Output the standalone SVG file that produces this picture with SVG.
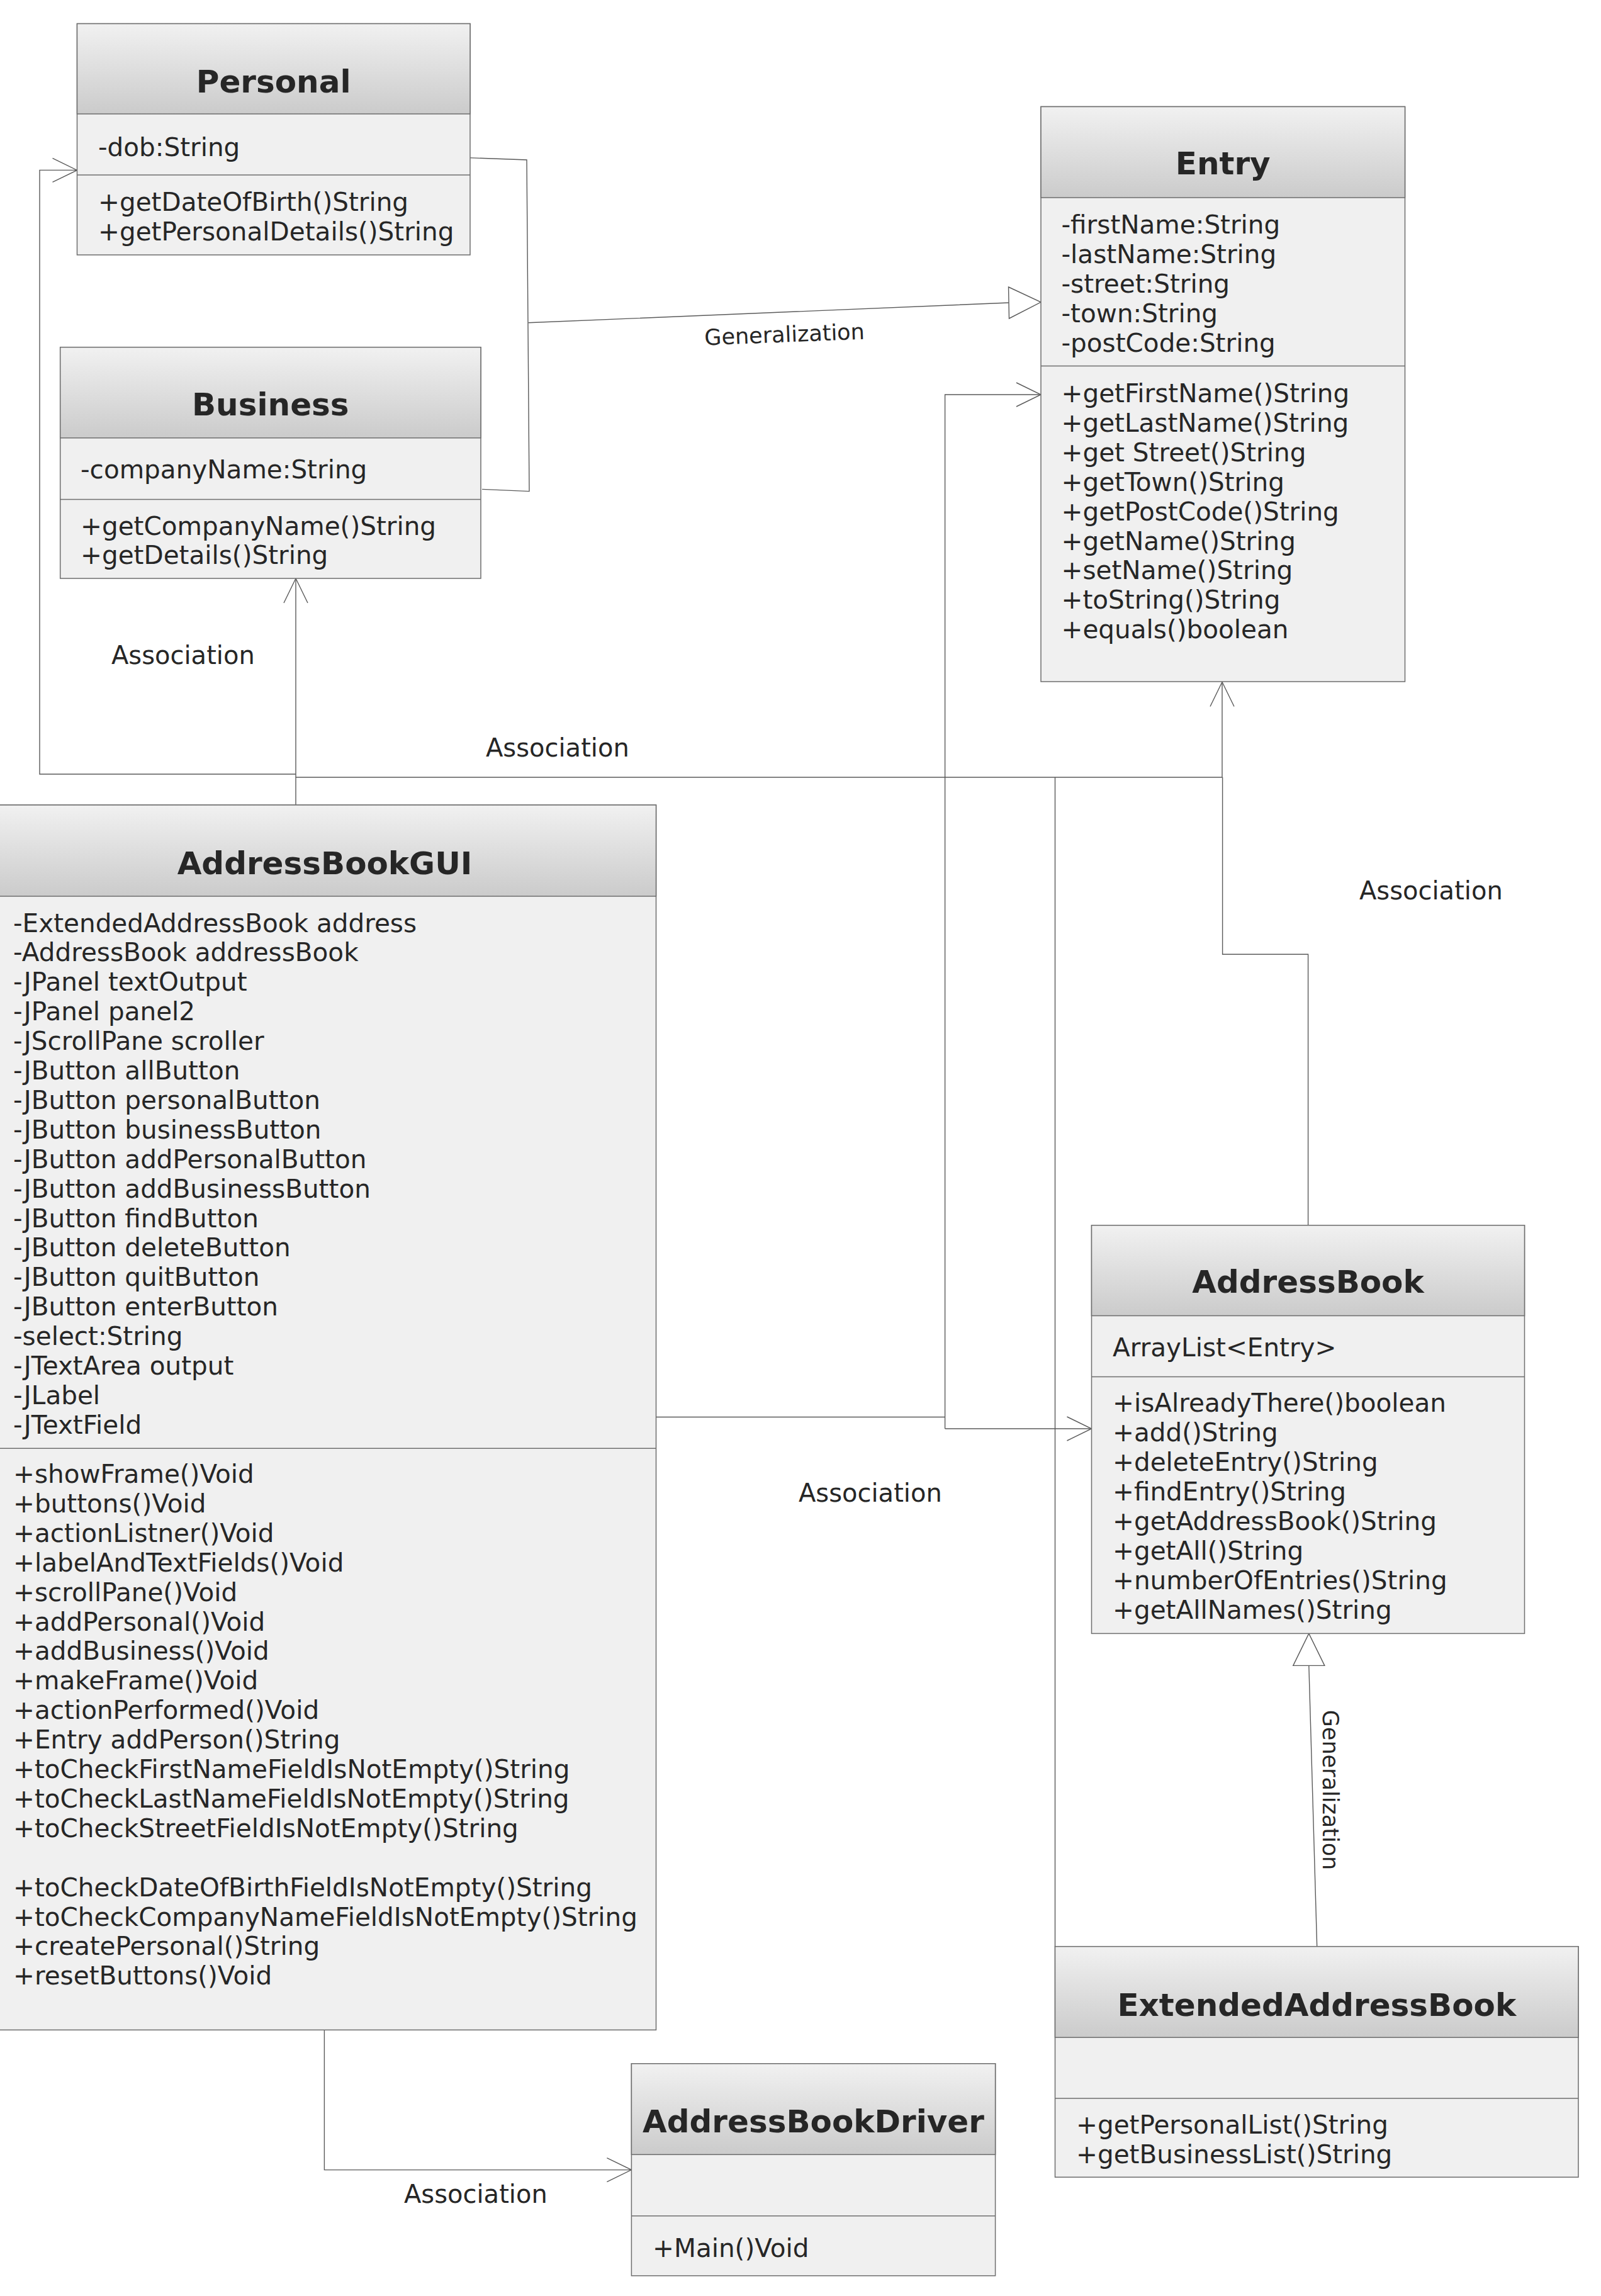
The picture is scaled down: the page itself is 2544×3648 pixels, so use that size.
<svg xmlns="http://www.w3.org/2000/svg" width="2544" height="3648" viewBox="0 0 2544 3648">
<defs>
<linearGradient id="hdr" x1="0" y1="0" x2="0" y2="1">
<stop offset="0" stop-color="#f1f1f1"/>
<stop offset="1" stop-color="#cbcbcb"/>
</linearGradient>
<marker id="open" viewBox="-42 -22 46 44" markerWidth="46" markerHeight="44" refX="0" refY="0" orient="auto" markerUnits="userSpaceOnUse">
<path d="M-39,-19 L0,0 L-39,19" fill="none" stroke="#5a5a5a" stroke-width="1.4"/>
</marker>
<marker id="tri" viewBox="-54 -28 58 56" markerWidth="58" markerHeight="56" refX="0" refY="0" orient="auto" markerUnits="userSpaceOnUse">
<path d="M-51,-25 L0,0 L-51,25 Z" fill="#ffffff" stroke="#5a5a5a" stroke-width="1.4"/>
</marker>
</defs>
<style>
.body{fill:#f0f0f0;stroke:#6e6e6e;stroke-width:1.5}
.head{fill:url(#hdr);stroke:#6e6e6e;stroke-width:1.5}
.sep{stroke:#6e6e6e;stroke-width:1.5}
.title{font-family:"DejaVu Sans","Liberation Sans",sans-serif;font-weight:bold;font-size:50px;fill:#262626;text-anchor:middle}
.txt{font-family:"DejaVu Sans","Liberation Sans",sans-serif;font-size:40.5px;fill:#262626}
.lbl{font-family:"DejaVu Sans","Liberation Sans",sans-serif;font-size:40px;fill:#262626}
.glbl{font-family:"DejaVu Sans","Liberation Sans",sans-serif;font-size:35px;fill:#262626;text-anchor:middle}
.con{fill:none;stroke:#5a5a5a;stroke-width:1.4}
</style>
<rect x="0" y="0" width="2544" height="3648" fill="#ffffff"/>

<g id="connectors">
<path class="con" d="M744,250.6 L837,254 L841,780.6 L766,777.4"/>
<path class="con" d="M839.6,512.8 L1603,481 L1654,480" marker-end="url(#tri)"/>
<path class="con" d="M470,1230 L63,1230 L63,270.4 L122.5,270.4" marker-end="url(#open)"/>
<path class="con" d="M470,1279 L470,919" marker-end="url(#open)"/>
<path class="con" d="M470,1235 L1942,1235 L1942,1083.5" marker-end="url(#open)"/>
<path class="con" d="M2078.6,1946.8 L2078.6,1516.3 L1942.6,1516.3 L1942.6,1235"/>
<path class="con" d="M1676.5,3092.7 L1676.5,1235"/>
<path class="con" d="M1042.5,2251.5 L1501.6,2251.5"/>
<path class="con" d="M1501.6,2270 L1501.6,627 L1654,627" marker-end="url(#open)"/>
<path class="con" d="M1501.6,2270 L1734.5,2270" marker-end="url(#open)"/>
<path class="con" d="M2092.7,3092.7 L2079.8,2646 L2079.8,2595.4" marker-end="url(#tri)"/>
<path class="con" d="M515.4,3225.3 L515.4,3447.6 L1003.4,3447.6" marker-end="url(#open)"/>
<text class="glbl" x="1247" y="543.5" transform="rotate(-2.2 1247 543.5)">Generalization</text>
<text class="glbl" x="2844" y="-2102" transform="rotate(90)">Generalization</text>
<text class="lbl" x="177" y="1055">Association</text>
<text class="lbl" x="772" y="1202">Association</text>
<text class="lbl" x="2160" y="1429">Association</text>
<text class="lbl" x="1269" y="2386">Association</text>
<text class="lbl" x="642" y="3499.6">Association</text>
</g>

<g id="node-personal">
<rect class="body" x="122.5" y="37.6" width="624.5" height="367.4"/>
<rect class="head" x="122.5" y="37.6" width="624.5" height="143.4"/>
<line class="sep" x1="122.5" y1="278" x2="747" y2="278"/>
<text class="title" x="434.7" y="146.7">Personal</text>
<text class="txt" x="156" y="247.5">-dob:String</text>
<text class="txt" x="156" y="335">+getDateOfBirth()String</text>
<text class="txt" x="156" y="381.9">+getPersonalDetails()String</text>
</g>

<g id="node-business">
<rect class="body" x="95.7" y="551.7" width="668.3" height="367.3"/>
<rect class="head" x="95.7" y="551.7" width="668.3" height="144.1"/>
<line class="sep" x1="95.7" y1="793.4" x2="764" y2="793.4"/>
<text class="title" x="429.8" y="660">Business</text>
<text class="txt" x="128" y="760">-companyName:String</text>
<text class="txt" x="128" y="849.5">+getCompanyName()String</text>
<text class="txt" x="128" y="896.4">+getDetails()String</text>
</g>

<g id="node-entry">
<rect class="body" x="1654" y="169.5" width="578.5" height="913.5"/>
<rect class="head" x="1654" y="169.5" width="578.5" height="144.5"/>
<line class="sep" x1="1654" y1="581.5" x2="2232.5" y2="581.5"/>
<text class="title" x="1943.2" y="277.3">Entry</text>
<text class="txt" x="1686.5" y="371">-firstName:String</text>
<text class="txt" x="1686.5" y="417.9">-lastName:String</text>
<text class="txt" x="1686.5" y="464.8">-street:String</text>
<text class="txt" x="1686.5" y="511.7">-town:String</text>
<text class="txt" x="1686.5" y="558.6">-postCode:String</text>
<text class="txt" x="1686.5" y="639">+getFirstName()String</text>
<text class="txt" x="1686.5" y="685.9">+getLastName()String</text>
<text class="txt" x="1686.5" y="732.8">+get Street()String</text>
<text class="txt" x="1686.5" y="779.7">+getTown()String</text>
<text class="txt" x="1686.5" y="826.6">+getPostCode()String</text>
<text class="txt" x="1686.5" y="873.5">+getName()String</text>
<text class="txt" x="1686.5" y="920.4">+setName()String</text>
<text class="txt" x="1686.5" y="967.3">+toString()String</text>
<text class="txt" x="1686.5" y="1014.2">+equals()boolean</text>
</g>

<g id="node-addressbookgui">
<rect class="body" x="-10" y="1279" width="1052.5" height="1946.3"/>
<rect class="head" x="-10" y="1279" width="1052.5" height="145"/>
<line class="sep" x1="-10" y1="2301.3" x2="1042.5" y2="2301.3"/>
<text class="title" x="516" y="1388.5">AddressBookGUI</text>
<text class="txt" x="21" y="1480.5">-ExtendedAddressBook address</text>
<text class="txt" x="21" y="1527.4">-AddressBook addressBook</text>
<text class="txt" x="21" y="1574.3">-JPanel textOutput</text>
<text class="txt" x="21" y="1621.2">-JPanel panel2</text>
<text class="txt" x="21" y="1668.1">-JScrollPane scroller</text>
<text class="txt" x="21" y="1715">-JButton allButton</text>
<text class="txt" x="21" y="1761.9">-JButton personalButton</text>
<text class="txt" x="21" y="1808.8">-JButton businessButton</text>
<text class="txt" x="21" y="1855.7">-JButton addPersonalButton</text>
<text class="txt" x="21" y="1902.6">-JButton addBusinessButton</text>
<text class="txt" x="21" y="1949.5">-JButton findButton</text>
<text class="txt" x="21" y="1996.4">-JButton deleteButton</text>
<text class="txt" x="21" y="2043.3">-JButton quitButton</text>
<text class="txt" x="21" y="2090.2">-JButton enterButton</text>
<text class="txt" x="21" y="2137.1">-select:String</text>
<text class="txt" x="21" y="2184">-JTextArea output</text>
<text class="txt" x="21" y="2230.9">-JLabel</text>
<text class="txt" x="21" y="2277.8">-JTextField</text>
<text class="txt" x="21" y="2356">+showFrame()Void</text>
<text class="txt" x="21" y="2402.9">+buttons()Void</text>
<text class="txt" x="21" y="2449.8">+actionListner()Void</text>
<text class="txt" x="21" y="2496.7">+labelAndTextFields()Void</text>
<text class="txt" x="21" y="2543.6">+scrollPane()Void</text>
<text class="txt" x="21" y="2590.5">+addPersonal()Void</text>
<text class="txt" x="21" y="2637.4">+addBusiness()Void</text>
<text class="txt" x="21" y="2684.3">+makeFrame()Void</text>
<text class="txt" x="21" y="2731.2">+actionPerformed()Void</text>
<text class="txt" x="21" y="2778.1">+Entry addPerson()String</text>
<text class="txt" x="21" y="2825">+toCheckFirstNameFieldIsNotEmpty()String</text>
<text class="txt" x="21" y="2871.9">+toCheckLastNameFieldIsNotEmpty()String</text>
<text class="txt" x="21" y="2918.8">+toCheckStreetFieldIsNotEmpty()String</text>
<text class="txt" x="21" y="3012.6">+toCheckDateOfBirthFieldIsNotEmpty()String</text>
<text class="txt" x="21" y="3059.5">+toCheckCompanyNameFieldIsNotEmpty()String</text>
<text class="txt" x="21" y="3106.4">+createPersonal()String</text>
<text class="txt" x="21" y="3153.3">+resetButtons()Void</text>
</g>

<g id="node-addressbook">
<rect class="body" x="1734.5" y="1946.8" width="688" height="648.6"/>
<rect class="head" x="1734.5" y="1946.8" width="688" height="143.7"/>
<line class="sep" x1="1734.5" y1="2187.5" x2="2422.5" y2="2187.5"/>
<text class="title" x="2078.5" y="2053.5">AddressBook</text>
<text class="txt" x="1768" y="2154.7">ArrayList&lt;Entry&gt;</text>
<text class="txt" x="1768" y="2243">+isAlreadyThere()boolean</text>
<text class="txt" x="1768" y="2290">+add()String</text>
<text class="txt" x="1768" y="2337">+deleteEntry()String</text>
<text class="txt" x="1768" y="2384">+findEntry()String</text>
<text class="txt" x="1768" y="2431">+getAddressBook()String</text>
<text class="txt" x="1768" y="2478">+getAll()String</text>
<text class="txt" x="1768" y="2525">+numberOfEntries()String</text>
<text class="txt" x="1768" y="2572">+getAllNames()String</text>
</g>

<g id="node-extendedaddressbook">
<rect class="body" x="1676.5" y="3092.7" width="831.5" height="366.5"/>
<rect class="head" x="1676.5" y="3092.7" width="831.5" height="144.5"/>
<line class="sep" x1="1676.5" y1="3334" x2="2508" y2="3334"/>
<text class="title" x="2092.3" y="3203">ExtendedAddressBook</text>
<text class="txt" x="1710" y="3390">+getPersonalList()String</text>
<text class="txt" x="1710" y="3436.5">+getBusinessList()String</text>
</g>

<g id="node-addressbookdriver">
<rect class="body" x="1003.4" y="3278.8" width="578.2" height="337"/>
<rect class="head" x="1003.4" y="3278.8" width="578.2" height="144.5"/>
<line class="sep" x1="1003.4" y1="3520.7" x2="1581.6" y2="3520.7"/>
<text class="title" x="1292.5" y="3387.5">AddressBookDriver</text>
<text class="txt" x="1037" y="3585.5">+Main()Void</text>
</g>
</svg>
